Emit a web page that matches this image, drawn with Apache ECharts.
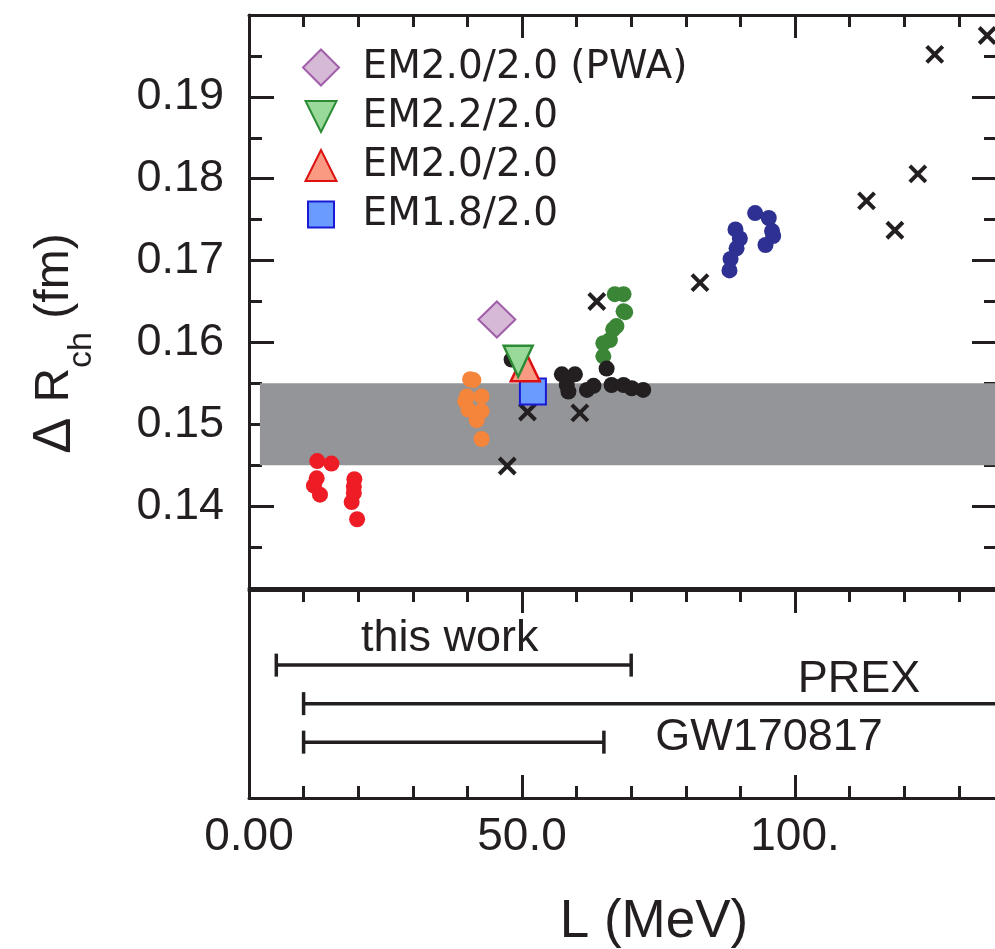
<!DOCTYPE html>
<html>
<head>
<meta charset="utf-8">
<script src="https://cdn.jsdelivr.net/npm/echarts@6/dist/echarts.min.js"></script>
<style>
  html, body { margin: 0; padding: 0; background: #ffffff; }
  #chart { width: 995px; height: 949px; }
</style>
</head>
<body>
<div id="chart"></div>
<script>
// ---- data: [L (MeV), ΔR_ch (fm)] ----
const redPoints = [[12.5, 0.1455], [15.1, 0.1452], [12.4, 0.1434], [11.9, 0.1425], [13.0, 0.1414],
  [19.3, 0.1433], [19.2, 0.1424], [19.2, 0.1416], [18.8, 0.1405], [19.8, 0.1384]];
const orangePoints = [[40.5, 0.1555], [41.1, 0.1554], [39.9, 0.1534], [42.6, 0.1534], [39.6, 0.1528],
  [40.2, 0.1518], [42.6, 0.1516], [41.7, 0.1505], [42.6, 0.1482]];
const greenPoints = [[67.0, 0.1659], [68.6, 0.1659], [68.9, 0.1637], [68.6, 0.1638], [67.3, 0.1620],
  [66.7, 0.1616], [66.1, 0.1603], [64.9, 0.1599], [64.9, 0.1583]];
const bluePoints = [[92.7, 0.1758], [95.2, 0.1752], [95.8, 0.1736], [96.0, 0.1730], [94.6, 0.1719],
  [89.1, 0.1738], [89.9, 0.1727], [89.3, 0.1715], [88.2, 0.1702], [88.0, 0.1688]];
const blackPoints = [[48.1, 0.1579], [57.3, 0.1561], [59.7, 0.1561], [58.2, 0.1548], [58.5, 0.1540],
  [61.9, 0.1542], [63.1, 0.1547], [65.5, 0.1568], [66.4, 0.1548], [68.6, 0.1548], [70.1, 0.1544], [72.2, 0.1542]];
const crossPoints = [[47.3, 0.1449], [51.0, 0.1515], [60.6, 0.1514], [63.7, 0.1650], [82.6, 0.1673],
  [113.1, 0.1773], [118.3, 0.1737], [122.5, 0.1806], [125.6, 0.1952], [135.2, 0.1975]];

const em20pwa = [[45.4, 0.1628]];
const em22 = [[49.3, 0.1577]];
const em20 = [[50.6, 0.1571]];
const em18 = [[52.0, 0.1540]];

// shaded ΔR_ch constraint
const bandR = [0.145, 0.155];
const bandStartL = 2;

// L ranges in the lower panel
const rangeNames = ['this work', 'PREX', 'GW170817'];
const rangeLow = [5, 10, 10];
const rangeHigh = [70, 145, 65];

// axes
const xMin = 0, xMax = 137;
const yMin = 0.13, yMax = 0.20;
const xTickValues = [0, 50, 100];
const xTickText = ['0.00', '50.0', '100.'];
const yTickValues = [0.14, 0.15, 0.16, 0.17, 0.18, 0.19];
const yTickText = ['0.14', '0.15', '0.16', '0.17', '0.18', '0.19'];

// ---- styling ----
const ink = '#231f20';
const sans = 'Liberation Sans';
const labelLayout = [ // where each range label sits: L of its left edge, vertical offset (px) from its bar
  { L: 20.5, dy: -27 },
  { L: 100.5, dy: -24 },
  { L: 74.4, dy: -5 }
];

const crossSymbol = 'path://M0,0L10,10M10,0L0,10';
// legend icons drawn inside a 36x36 box (the leading moves fix the box)
const iconDiamond = 'path://M0,0M36,36M18,0L36,18L18,36L0,18Z';
const iconDown = 'path://M0,0M36,36M2.5,2.5L33.5,2.5L18,33.5Z';
const iconUp = 'path://M0,0M36,36M2.5,33.5L33.5,33.5L18,2.5Z';
const iconSquare = 'path://M0,0M36,36M5,5L31,5L31,31L5,31Z';

function fmtFrom(values, texts) {
  return function (v) {
    const i = values.findIndex(t => Math.abs(t - v) < 1e-7);
    return i >= 0 ? texts[i] : '';
  };
}

function tickAxis(extra) {
  return Object.assign({
    type: 'value', min: xMin, max: xMax,
    splitLine: { show: false },
    axisLine: { show: true, onZero: false, lineStyle: { color: ink, width: 3 } },
    axisTick: { show: true, inside: true, length: 12, lineStyle: { color: ink, width: 3 } },
    axisLabel: { show: false }
  }, extra);
}

function yTickAxis(extra) {
  return Object.assign({
    type: 'value', min: yMin, max: yMax, gridIndex: 0,
    splitLine: { show: false },
    axisLine: { show: true, onZero: false, lineStyle: { color: ink, width: 3 } },
    axisTick: { show: true, inside: true, length: 13, lineStyle: { color: ink, width: 3 } },
    axisLabel: { show: false }
  }, extra);
}

const chart = echarts.init(document.getElementById('chart'), null, { renderer: 'canvas' });

const option = {
  animation: false,
  backgroundColor: '#ffffff',
  grid: [
    { left: 249, top: 15, width: 748, height: 573, outerBoundsMode: 'none', containLabel: false },
    { left: 249, top: 590, width: 748, height: 208, outerBoundsMode: 'none', containLabel: false }
  ],
  xAxis: [
    // upper panel
    tickAxis({ gridIndex: 0, position: 'bottom', interval: 10, axisTick: { show: false } }),
    tickAxis({ gridIndex: 0, position: 'top', interval: 10 }),
    tickAxis({ gridIndex: 0, position: 'top', interval: 50, axisLine: { show: false, onZero: false },
      axisTick: { show: true, inside: true, length: 23, lineStyle: { color: ink, width: 3 } } }),
    // lower panel
    tickAxis({ gridIndex: 1, position: 'top', interval: 10 }),
    tickAxis({ gridIndex: 1, position: 'top', interval: 50, axisLine: { show: false, onZero: false },
      axisTick: { show: true, inside: true, length: 23, lineStyle: { color: ink, width: 3 } } }),
    tickAxis({ gridIndex: 1, position: 'bottom', interval: 10,
      axisLabel: { show: true, margin: 16, color: ink, fontFamily: sans, fontSize: 46,
        formatter: fmtFrom(xTickValues, xTickText) },
      name: 'L (MeV)', nameLocation: 'middle', nameGap: 98,
      nameTextStyle: { color: ink, fontFamily: sans, fontSize: 53, padding: [0, 0, 0, 62] } }),
    tickAxis({ gridIndex: 1, position: 'bottom', interval: 50, axisLine: { show: false, onZero: false },
      axisTick: { show: true, inside: true, length: 23, lineStyle: { color: ink, width: 3 } } })
  ],
  yAxis: [
    yTickAxis({ position: 'left', interval: 0.005,
      axisLabel: { show: true, margin: 25, color: ink, fontFamily: sans, fontSize: 45,
        formatter: fmtFrom(yTickValues, yTickText) },
      name: '{d|Δ }{r|R}{s|ch}{r| (fm)}', nameLocation: 'middle', nameRotate: 90, nameGap: 170,
      nameTextStyle: {
        color: ink, fontFamily: sans, fontSize: 48, padding: [0, 84, 0, 0],
        rich: {
          d: { color: ink, fontFamily: sans, fontSize: 54, lineHeight: 48 },
          r: { color: ink, fontFamily: sans, fontSize: 48, lineHeight: 48 },
          s: { color: ink, fontFamily: sans, fontSize: 34, lineHeight: 34, padding: [53, 0, 0, 0] }
        }
      } }),
    yTickAxis({ position: 'left', interval: 0.01, axisLine: { show: false, onZero: false },
      axisTick: { show: true, inside: true, length: 25, lineStyle: { color: ink, width: 3 } } }),
    yTickAxis({ position: 'right', interval: 0.005 }),
    yTickAxis({ position: 'right', interval: 0.01, axisLine: { show: false, onZero: false },
      axisTick: { show: true, inside: true, length: 25, lineStyle: { color: ink, width: 3 } } }),
    // lower panel: one row per range, top to bottom
    { type: 'value', gridIndex: 1, min: -1.95, max: 3.45, inverse: true,
      splitLine: { show: false },
      axisLine: { show: true, onZero: false, lineStyle: { color: ink, width: 3 } },
      axisTick: { show: false }, axisLabel: { show: false } }
  ],
  legend: {
    orient: 'vertical',
    left: 297, top: 43,
    itemWidth: 73, itemHeight: 36, itemGap: 10,
    symbolKeepAspect: true,
    selectedMode: false,
    textStyle: { color: ink, fontFamily: 'DejaVu Sans', fontSize: 39, lineHeight: 36 },
    data: [
      { name: 'EM2.0/2.0 (PWA)', icon: iconDiamond },
      { name: 'EM2.2/2.0', icon: iconDown },
      { name: 'EM2.0/2.0', icon: iconUp },
      { name: 'EM1.8/2.0', icon: iconSquare }
    ]
  },
  series: [
    {
      type: 'custom', name: 'band', xAxisIndex: 0, yAxisIndex: 0, z: 1, clip: true, silent: true,
      data: [[bandStartL, xMax, bandR[0], bandR[1]]],
      renderItem: function (params, api) {
        const p0 = api.coord([api.value(0), api.value(3)]);
        const p1 = api.coord([api.value(1), api.value(2)]);
        return { type: 'rect', shape: { x: p0[0], y: p0[1], width: p1[0] - p0[0], height: p1[1] - p0[1] },
          style: { fill: '#939598' } };
      }
    },
    { type: 'scatter', name: 'cross', xAxisIndex: 0, yAxisIndex: 0, z: 3, data: crossPoints,
      symbol: crossSymbol, symbolSize: 16,
      itemStyle: { color: 'none', borderColor: ink, borderWidth: 4, opacity: 1 } },
    { type: 'scatter', name: 'red', xAxisIndex: 0, yAxisIndex: 0, z: 3, data: redPoints,
      symbol: 'circle', symbolSize: 16, itemStyle: { color: '#ee1c25', opacity: 1 } },
    { type: 'scatter', name: 'orange', xAxisIndex: 0, yAxisIndex: 0, z: 3, data: orangePoints,
      symbol: 'circle', symbolSize: 16, itemStyle: { color: '#f4853a', opacity: 1 } },
    { type: 'scatter', name: 'green', xAxisIndex: 0, yAxisIndex: 0, z: 3, data: greenPoints,
      symbol: 'circle', symbolSize: 16, itemStyle: { color: '#3b8537', opacity: 1 } },
    { type: 'scatter', name: 'blue', xAxisIndex: 0, yAxisIndex: 0, z: 3, data: bluePoints,
      symbol: 'circle', symbolSize: 16, itemStyle: { color: '#2e3192', opacity: 1 } },
    { type: 'scatter', name: 'black', xAxisIndex: 0, yAxisIndex: 0, z: 3, data: blackPoints,
      symbol: 'circle', symbolSize: 16, itemStyle: { color: ink, opacity: 1 } },
    { type: 'scatter', name: 'EM1.8/2.0', xAxisIndex: 0, yAxisIndex: 0, z: 4, data: em18,
      symbol: 'rect', symbolSize: 26,
      itemStyle: { color: '#6a9bff', borderColor: '#1a1ad4', borderWidth: 2, opacity: 1 } },
    { type: 'scatter', name: 'EM2.0/2.0', xAxisIndex: 0, yAxisIndex: 0, z: 4, data: em20,
      symbol: 'triangle', symbolSize: [29, 30],
      itemStyle: { color: '#fb9a82', borderColor: '#dd1111', borderWidth: 2.5, opacity: 1 } },
    { type: 'scatter', name: 'EM2.2/2.0', xAxisIndex: 0, yAxisIndex: 0, z: 4, data: em22,
      symbol: 'triangle', symbolRotate: 180, symbolSize: [29, 31],
      itemStyle: { color: '#99d99a', borderColor: '#2e8b35', borderWidth: 2.5, opacity: 1 } },
    { type: 'scatter', name: 'EM2.0/2.0 (PWA)', xAxisIndex: 0, yAxisIndex: 0, z: 4, data: em20pwa,
      symbol: 'diamond', symbolSize: [37, 36],
      itemStyle: { color: '#d5b9d7', borderColor: '#a15eaa', borderWidth: 2, opacity: 1 } },
    {
      type: 'custom', name: 'ranges', xAxisIndex: 5, yAxisIndex: 4, z: 3, clip: true, silent: true,
      data: rangeNames.map((n, i) => [i, rangeLow[i], rangeHigh[i]]),
      renderItem: function (params, api) {
        const row = api.value(0);
        const a = api.coord([api.value(1), row]);
        const b = api.coord([api.value(2), row]);
        const cap = 11.5;
        const stroke = { stroke: ink, lineWidth: 3.5 };
        const lay = labelLayout[params.dataIndex];
        const t = api.coord([lay.L, row]);
        return {
          type: 'group',
          children: [
            { type: 'line', shape: { x1: a[0], y1: a[1], x2: b[0], y2: b[1] }, style: stroke },
            { type: 'line', shape: { x1: a[0], y1: a[1] - cap, x2: a[0], y2: a[1] + cap }, style: stroke },
            { type: 'line', shape: { x1: b[0], y1: b[1] - cap, x2: b[0], y2: b[1] + cap }, style: stroke },
            { type: 'text', x: t[0], y: t[1] + lay.dy,
              style: { text: rangeNames[params.dataIndex], fill: ink, fontFamily: sans, fontSize: 45,
                align: 'left', verticalAlign: 'middle' } }
          ]
        };
      }
    }
  ]
};

chart.setOption(option);
</script>
</body>
</html>
